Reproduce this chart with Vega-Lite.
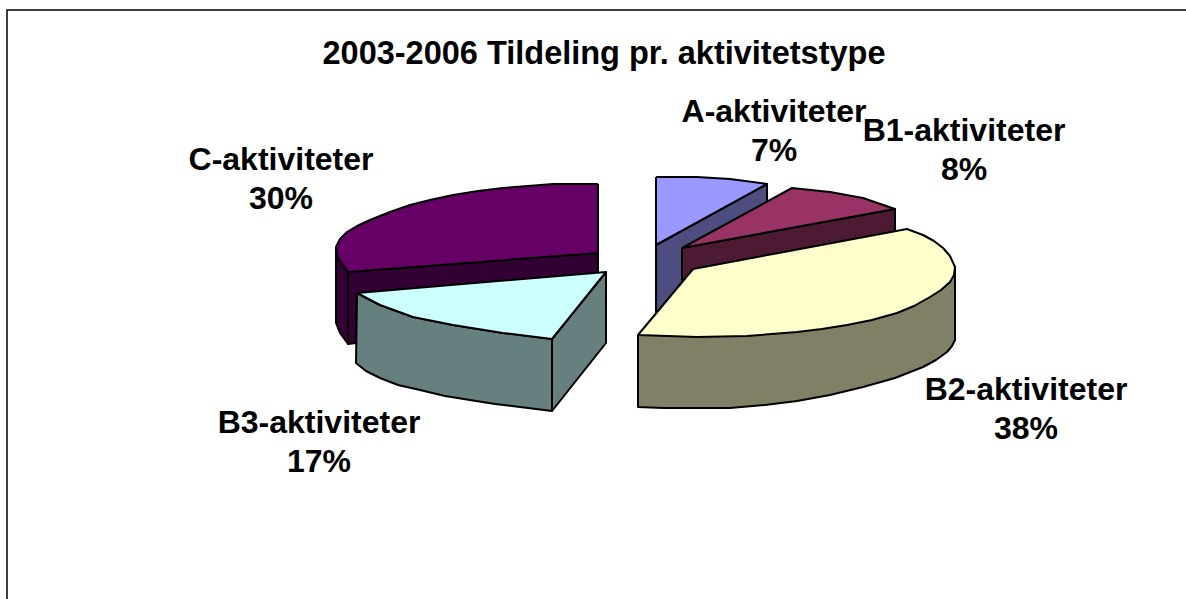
{"$schema":"https://vega.github.io/schema/vega-lite/v6.json","width":1186,"height":599,"padding":0,"autosize":"none","background":"white",
"title":{"text":"2003-2006 Tildeling pr. aktivitetstype","font":"Liberation Sans","fontSize":32.5,"fontWeight":"bold","color":"black","offset":-70,"anchor":"middle","dx":11},
"datasets":{"faces":[
{"f":"C side","i":0,"x":336,"y":247},{"f":"C side","i":1,"x":336,"y":323},{"f":"C side","i":2,"x":340,"y":333},{"f":"C side","i":3,"x":348,"y":344},{"f":"C side","i":4,"x":348,"y":272},{"f":"C side","i":5,"x":336,"y":247},
{"f":"C front","i":0,"x":348,"y":272},{"f":"C front","i":1,"x":598,"y":253},{"f":"C front","i":2,"x":598,"y":280},{"f":"C front","i":3,"x":356,"y":300},{"f":"C front","i":4,"x":356,"y":343},{"f":"C front","i":5,"x":348,"y":344},{"f":"C front","i":6,"x":348,"y":272},
{"f":"C top","i":0,"x":598,"y":184},{"f":"C top","i":1,"x":553,"y":184},{"f":"C top","i":2,"x":528,"y":186},{"f":"C top","i":3,"x":503,"y":188},{"f":"C top","i":4,"x":478,"y":191},{"f":"C top","i":5,"x":453,"y":195},{"f":"C top","i":6,"x":430,"y":200},{"f":"C top","i":7,"x":410,"y":205},{"f":"C top","i":8,"x":390,"y":212},{"f":"C top","i":9,"x":370,"y":220},{"f":"C top","i":10,"x":357,"y":226},{"f":"C top","i":11,"x":347,"y":232},{"f":"C top","i":12,"x":340,"y":239},{"f":"C top","i":13,"x":336,"y":247},{"f":"C top","i":14,"x":338,"y":258},{"f":"C top","i":15,"x":348,"y":272},{"f":"C top","i":16,"x":598,"y":253},{"f":"C top","i":17,"x":598,"y":184},
{"f":"B3 side","i":0,"x":552,"y":339},{"f":"B3 side","i":1,"x":606,"y":272},{"f":"B3 side","i":2,"x":606,"y":343},{"f":"B3 side","i":3,"x":552,"y":411},{"f":"B3 side","i":4,"x":552,"y":339},
{"f":"B3 front","i":0,"x":357,"y":293},{"f":"B3 front","i":1,"x":380,"y":305},{"f":"B3 front","i":2,"x":413,"y":317},{"f":"B3 front","i":3,"x":453,"y":325},{"f":"B3 front","i":4,"x":503,"y":333},{"f":"B3 front","i":5,"x":552,"y":339},{"f":"B3 front","i":6,"x":552,"y":411},{"f":"B3 front","i":7,"x":520,"y":407},{"f":"B3 front","i":8,"x":495,"y":404},{"f":"B3 front","i":9,"x":470,"y":400},{"f":"B3 front","i":10,"x":445,"y":396},{"f":"B3 front","i":11,"x":420,"y":390},{"f":"B3 front","i":12,"x":398,"y":385},{"f":"B3 front","i":13,"x":380,"y":378},{"f":"B3 front","i":14,"x":366,"y":371},{"f":"B3 front","i":15,"x":356,"y":363},{"f":"B3 front","i":16,"x":357,"y":293},
{"f":"B3 top","i":0,"x":357,"y":293},{"f":"B3 top","i":1,"x":606,"y":272},{"f":"B3 top","i":2,"x":552,"y":339},{"f":"B3 top","i":3,"x":503,"y":333},{"f":"B3 top","i":4,"x":453,"y":325},{"f":"B3 top","i":5,"x":413,"y":317},{"f":"B3 top","i":6,"x":380,"y":305},{"f":"B3 top","i":7,"x":357,"y":293},
{"f":"A side","i":0,"x":656,"y":245},{"f":"A side","i":1,"x":767,"y":184},{"f":"A side","i":2,"x":767,"y":250},{"f":"A side","i":3,"x":656,"y":312},{"f":"A side","i":4,"x":656,"y":245},
{"f":"A top","i":0,"x":656,"y":177},{"f":"A top","i":1,"x":697,"y":177},{"f":"A top","i":2,"x":730,"y":179},{"f":"A top","i":3,"x":767,"y":184},{"f":"A top","i":4,"x":656,"y":245},{"f":"A top","i":5,"x":656,"y":177},
{"f":"B1 side","i":0,"x":682,"y":248},{"f":"B1 side","i":1,"x":895,"y":209},{"f":"B1 side","i":2,"x":895,"y":232},{"f":"B1 side","i":3,"x":682,"y":280},{"f":"B1 side","i":4,"x":682,"y":248},
{"f":"B1 top","i":0,"x":682,"y":248},{"f":"B1 top","i":1,"x":792,"y":188},{"f":"B1 top","i":2,"x":830,"y":192},{"f":"B1 top","i":3,"x":863,"y":198},{"f":"B1 top","i":4,"x":895,"y":209},{"f":"B1 top","i":5,"x":682,"y":248},
{"f":"B2 side","i":0,"x":638,"y":335},{"f":"B2 side","i":1,"x":638,"y":407},{"f":"B2 side","i":2,"x":663,"y":408},{"f":"B2 side","i":3,"x":730,"y":408},{"f":"B2 side","i":4,"x":765,"y":405},{"f":"B2 side","i":5,"x":797,"y":401},{"f":"B2 side","i":6,"x":830,"y":395},{"f":"B2 side","i":7,"x":863,"y":387},{"f":"B2 side","i":8,"x":895,"y":378},{"f":"B2 side","i":9,"x":923,"y":367},{"f":"B2 side","i":10,"x":936,"y":360},{"f":"B2 side","i":11,"x":947,"y":352},{"f":"B2 side","i":12,"x":952,"y":346},{"f":"B2 side","i":13,"x":955,"y":340},{"f":"B2 side","i":14,"x":955,"y":267},{"f":"B2 side","i":15,"x":638,"y":335},
{"f":"B2 top","i":0,"x":693,"y":269},{"f":"B2 top","i":1,"x":907,"y":229},{"f":"B2 top","i":2,"x":915,"y":232},{"f":"B2 top","i":3,"x":923,"y":235},{"f":"B2 top","i":4,"x":934,"y":241},{"f":"B2 top","i":5,"x":943,"y":248},{"f":"B2 top","i":6,"x":950,"y":256},{"f":"B2 top","i":7,"x":955,"y":267},{"f":"B2 top","i":8,"x":954,"y":275},{"f":"B2 top","i":9,"x":950,"y":282},{"f":"B2 top","i":10,"x":941,"y":290},{"f":"B2 top","i":11,"x":930,"y":297},{"f":"B2 top","i":12,"x":914,"y":306},{"f":"B2 top","i":13,"x":897,"y":313},{"f":"B2 top","i":14,"x":872,"y":320},{"f":"B2 top","i":15,"x":847,"y":325},{"f":"B2 top","i":16,"x":822,"y":329},{"f":"B2 top","i":17,"x":797,"y":332},{"f":"B2 top","i":18,"x":747,"y":336},{"f":"B2 top","i":19,"x":697,"y":337},{"f":"B2 top","i":20,"x":638,"y":335},{"f":"B2 top","i":21,"x":693,"y":269}
],
"labels":[
{"label":"A-aktiviteter\n7%","x":774,"y":97},
{"label":"B1-aktiviteter\n8%","x":964,"y":116},
{"label":"B2-aktiviteter\n38%","x":1026,"y":375},
{"label":"B3-aktiviteter\n17%","x":319,"y":408},
{"label":"C-aktiviteter\n30%","x":281,"y":145}
],
"frame":[{"x":7,"y":599},{"x":7,"y":10},{"x":1186,"y":10}]},
"layer":[
{"data":{"name":"frame"},"mark":{"type":"line","stroke":"black","strokeWidth":1.5,"clip":true},"encoding":{"x":{"field":"x","type":"quantitative","scale":{"domain":[0,1186]},"axis":null},"y":{"field":"y","type":"quantitative","scale":{"domain":[599,0]},"axis":null},"order":{"value":null}}},
{"data":{"name":"faces"},"mark":{"type":"line","stroke":"black","strokeWidth":2,"strokeJoin":"round","filled":true},"encoding":{
"x":{"field":"x","type":"quantitative","scale":{"domain":[0,1186]},"axis":null},
"y":{"field":"y","type":"quantitative","scale":{"domain":[599,0]},"axis":null},
"order":{"field":"i","type":"quantitative"},
"detail":{"field":"f"},
"fill":{"field":"f","type":"nominal","legend":null,"scale":{"domain":["A top","A side","B1 top","B1 side","B2 top","B2 side","B3 top","B3 side","B3 front","C top","C side","C front"],"range":["#9999FF","#4D4D80","#993366","#4D1A33","#FFFFCC","#808066","#CCFFFF","#668080","#668080","#660066","#330033","#330033"]}},
"stroke":{"value":"black"}}},
{"data":{"name":"labels"},"mark":{"type":"text","font":"Liberation Sans","fontSize":32,"fontWeight":"bold","color":"black","lineBreak":"\n","lineHeight":39,"baseline":"top","align":"center"},"encoding":{
"x":{"field":"x","type":"quantitative","scale":{"domain":[0,1186]},"axis":null},
"y":{"field":"y","type":"quantitative","scale":{"domain":[599,0]},"axis":null},
"text":{"field":"label"}}}
],
"config":{"view":{"stroke":null}}}
